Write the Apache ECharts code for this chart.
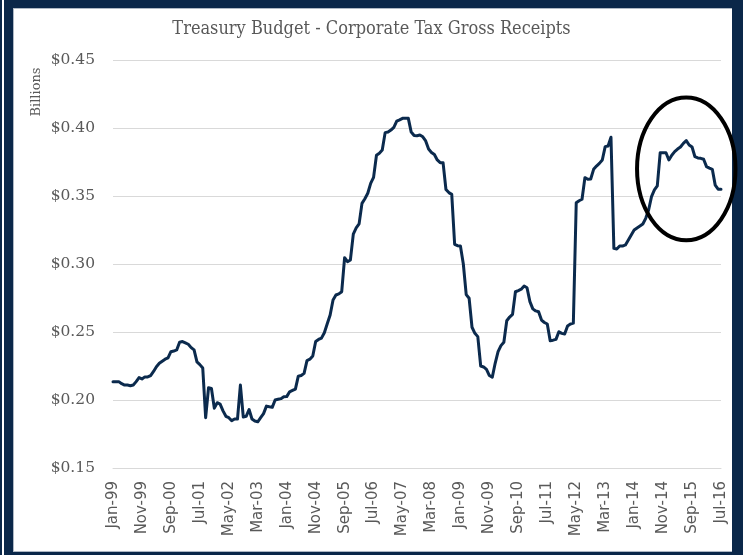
<!DOCTYPE html>
<html>
<head>
<meta charset="utf-8">
<title>Treasury Budget - Corporate Tax Gross Receipts</title>
<script src="https://cdn.jsdelivr.net/npm/echarts@6/dist/echarts.min.js"></script>
<style>
  html, body { margin: 0; padding: 0; background: #0a2749; }
  #chart { width: 743px; height: 555px; }
</style>
</head>
<body>
<div id="chart"></div>
<script>
// Monthly series, Jan-99 through Jul-16 (billions of dollars)
const monthNames = ['Jan', 'Feb', 'Mar', 'Apr', 'May', 'Jun', 'Jul', 'Aug', 'Sep', 'Oct', 'Nov', 'Dec'];
const startYear = 1999;
const monthCount = 211;

const receipts = [
  0.2135, 0.2135, 0.2135, 0.2120, 0.2110, 0.2110, 0.2105, 0.2110, 0.2135, 0.2165,
  0.2155, 0.2170, 0.2170, 0.2180, 0.2210, 0.2245, 0.2270, 0.2285, 0.2300, 0.2310,
  0.2355, 0.2360, 0.2368, 0.2425, 0.2430, 0.2420, 0.2410, 0.2385, 0.2368, 0.2280,
  0.2260, 0.2235, 0.1870, 0.2090, 0.2085, 0.1940, 0.1980, 0.1970, 0.1920, 0.1880,
  0.1870, 0.1848, 0.1860, 0.1860, 0.2110, 0.1875, 0.1880, 0.1930, 0.1860, 0.1845,
  0.1840, 0.1870, 0.1900, 0.1955, 0.1950, 0.1946, 0.2000, 0.2005, 0.2010, 0.2024,
  0.2025, 0.2060, 0.2070, 0.2080, 0.2175, 0.2180, 0.2196, 0.2290, 0.2300, 0.2324,
  0.2430, 0.2445, 0.2455, 0.2495, 0.2560, 0.2625, 0.2735, 0.2772, 0.2780, 0.2796,
  0.3046, 0.3017, 0.3030, 0.3220, 0.3265, 0.3295, 0.3446, 0.3480, 0.3520, 0.3593,
  0.3637, 0.3800, 0.3815, 0.3838, 0.3966, 0.3970, 0.3985, 0.4005, 0.4050, 0.4060,
  0.4071, 0.4072, 0.4071, 0.3970, 0.3945, 0.3943, 0.3948, 0.3935, 0.3905, 0.3845,
  0.3820, 0.3805, 0.3765, 0.3745, 0.3745, 0.3548, 0.3525, 0.3512, 0.3145, 0.3135,
  0.3132, 0.3000, 0.2775, 0.2748, 0.2535, 0.2490, 0.2466, 0.2250, 0.2243, 0.2225,
  0.2180, 0.2167, 0.2270, 0.2355, 0.2400, 0.2425, 0.2583, 0.2610, 0.2630, 0.2796,
  0.2805, 0.2815, 0.2838, 0.2825, 0.2723, 0.2670, 0.2655, 0.2649, 0.2588, 0.2570,
  0.2559, 0.2436, 0.2440, 0.2446, 0.2502, 0.2490, 0.2485, 0.2545, 0.2559, 0.2565,
  0.3450, 0.3465, 0.3476, 0.3635, 0.3623, 0.3625, 0.3696, 0.3720, 0.3740, 0.3765,
  0.3863, 0.3868, 0.3932, 0.3115, 0.3110, 0.3132, 0.3132, 0.3140, 0.3176, 0.3213,
  0.3250, 0.3265, 0.3279, 0.3294, 0.3336, 0.3397, 0.3495, 0.3545, 0.3575, 0.3818,
  0.3818, 0.3818, 0.3765, 0.3800, 0.3826, 0.3845, 0.3860, 0.3887, 0.3907, 0.3875,
  0.3860, 0.3789, 0.3780, 0.3777, 0.3770, 0.3716, 0.3705, 0.3696, 0.3580, 0.3550,
  0.3550
];

// y axis ticks
const yTicks = [0.15, 0.20, 0.25, 0.30, 0.35, 0.40, 0.45];
const labelEvery = 10; // one label every ten months
const unitLabel = 'Billions';

// highlighted recent period: centre month, centre value, half-width (months), half-height (value)
const highlight = { month: 'Jul-15', value: 0.370, halfMonths: 17, halfValue: 0.0525 };

const months = [];
for (let i = 0; i < monthCount; i++) {
  const yr = (startYear + Math.floor(i / 12)) % 100;
  months.push(monthNames[i % 12] + '-' + String(yr).padStart(2, '0'));
}

const navy = '#0a2749';
const lineColor = '#0b2a4d';
const textGray = '#595959';

const chart = echarts.init(document.getElementById('chart'), null, { renderer: 'canvas' });

// dark frame with a thin light inner edge
const frame = [
  { type: 'rect', z: -10, shape: { x: 0, y: 0, width: 743, height: 555 }, style: { fill: navy }, silent: true },
  { type: 'rect', z: -9, shape: { x: 2, y: 0, width: 2, height: 555 }, style: { fill: '#ffffff' }, silent: true },
  { type: 'rect', z: -9, shape: { x: 13, y: 8, width: 719, height: 544 }, style: { fill: '#aeb8c4' }, silent: true },
  { type: 'rect', z: -8, shape: { x: 14, y: 9, width: 718, height: 542 }, style: { fill: '#ffffff' }, silent: true },
  {
    type: 'text', z: 5, x: 37, y: 92, rotation: Math.PI / 2, silent: true,
    style: {
      text: unitLabel, fill: textGray, align: 'center', verticalAlign: 'middle',
      font: '13px "DejaVu Serif", serif'
    }
  }
];

chart.setOption({
  animation: false,
  backgroundColor: 'transparent',
  title: {
    text: 'Treasury Budget - Corporate Tax Gross Receipts',
    left: 'center',
    top: 20,
    padding: 0,
    textStyle: {
      fontFamily: '"DejaVu Serif Condensed", "Liberation Serif", serif',
      fontSize: 18,
      fontWeight: 'normal',
      color: textGray
    }
  },
  grid: { left: 113, right: 22, top: 60, bottom: 87, containLabel: false },
  xAxis: {
    type: 'category',
    data: months,
    boundaryGap: false,
    axisLine: { show: true, lineStyle: { color: '#d9d9d9', width: 1 } },
    axisTick: { show: false },
    splitLine: { show: false },
    axisLabel: {
      interval: labelEvery - 1,
      rotate: 90,
      margin: 13,
      color: textGray,
      fontFamily: '"DejaVu Sans", sans-serif',
      fontSize: 15
    }
  },
  yAxis: {
    type: 'value',
    min: yTicks[0],
    max: yTicks[yTicks.length - 1],
    interval: 0.05,
    axisLine: { show: false },
    axisTick: { show: false },
    splitLine: { lineStyle: { color: '#d9d9d9', width: 1 } },
    axisLabel: {
      margin: 18,
      color: textGray,
      fontFamily: '"DejaVu Serif", serif',
      fontSize: 15.5,
      formatter: v => '$' + v.toFixed(2)
    }
  },
  series: [{
    type: 'line',
    data: receipts,
    showSymbol: false,
    smooth: false,
    lineStyle: { color: lineColor, width: 3, join: 'round', cap: 'round' },
    z: 3
  }],
  graphic: frame
});

// ring around the highlighted period, positioned from data coordinates
const hi = months.indexOf(highlight.month);
const c = chart.convertToPixel({ xAxisIndex: 0, yAxisIndex: 0 }, [hi, highlight.value]);
const corner = chart.convertToPixel({ xAxisIndex: 0, yAxisIndex: 0 }, [hi - highlight.halfMonths, highlight.value + highlight.halfValue]);
const rx = c[0] - corner[0];
const ry = c[1] - corner[1];

chart.setOption({
  graphic: frame.concat([{
    type: 'ellipse',
    z: 100,
    shape: { cx: c[0], cy: c[1], rx: rx, ry: ry },
    style: { fill: 'none', stroke: '#000000', lineWidth: 4 },
    silent: true
  }])
});
</script>
</body>
</html>
